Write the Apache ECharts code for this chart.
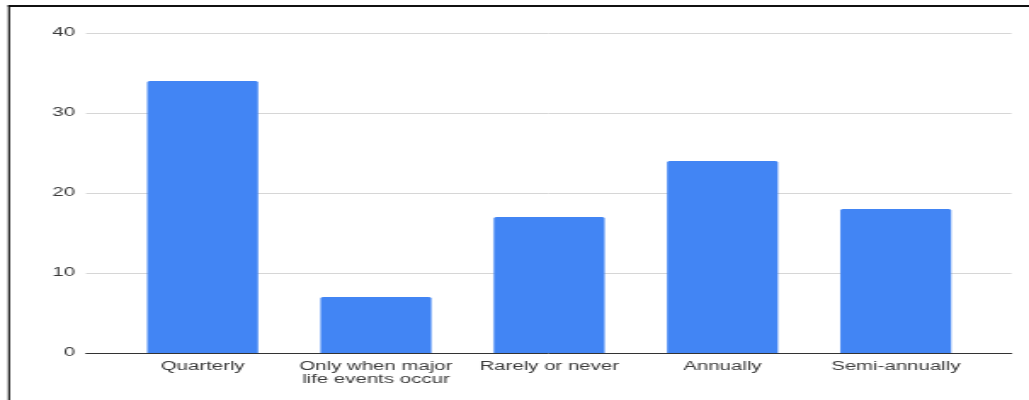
<!DOCTYPE html>
<html>
<head>
<meta charset="utf-8">
<script src="https://cdn.jsdelivr.net/npm/echarts@6/dist/echarts.min.js"></script>
<style>
  html, body { margin: 0; padding: 0; background: #fff; overflow: hidden; }
  /* The chart is laid out narrow and widened horizontally, giving the stretched look of the figure */
  #chart { width: 605px; height: 400px; transform: scaleX(1.7008); transform-origin: 0 0; }
</style>
</head>
<body>
<div id="chart"></div>
<script>
// How often respondents review the item in question
const categories = [
  'Quarterly',
  'Only when major\nlife events occur',
  'Rarely or never',
  'Annually',
  'Semi-annually'
];
const counts = [34, 7, 17, 24, 18];
const yTicks = [0, 10, 20, 30, 40];

const yMin = yTicks[0];
const yMax = yTicks[yTicks.length - 1];
const yStep = yTicks[1] - yTicks[0];

const labelFont = { fontFamily: '"Liberation Sans", Arial, sans-serif', fontSize: 12, color: '#3a3a3a' };

const chart = echarts.init(document.getElementById('chart'), null, { renderer: 'canvas' });

chart.setOption({
  animation: false,
  backgroundColor: '#fff',
  graphic: [
    // frame edges (left and top)
    { type: 'rect', left: 4.7, top: 5, shape: { width: 1.2, height: 400 }, style: { fill: '#111' }, silent: true },
    { type: 'rect', left: 4.7, top: 5, shape: { width: 620, height: 2 }, style: { fill: '#111' }, silent: true }
  ],
  grid: [
    // full-width plot: gridlines, value labels and baseline
    { left: 50.6, right: 10.3, top: 33, bottom: 47 },
    // inset band for the bars
    { left: 68.2, right: 27.4, top: 33, bottom: 47 }
  ],
  xAxis: [
    {
      gridIndex: 0, type: 'value', min: 0, max: 1,
      axisLine: { show: true, lineStyle: { color: '#333', width: 1 } },
      axisTick: { show: false }, axisLabel: { show: false }, splitLine: { show: false }
    },
    {
      gridIndex: 1, type: 'category', data: categories,
      axisLine: { show: false }, axisTick: { show: false },
      axisLabel: Object.assign({ interval: 0, margin: 7, lineHeight: 13 }, labelFont)
    }
  ],
  yAxis: [
    {
      gridIndex: 0, type: 'value', min: yMin, max: yMax, interval: yStep,
      axisLine: { show: false }, axisTick: { show: false },
      axisLabel: Object.assign({ margin: 6.5, padding: [2, 0, 0, 0] }, labelFont),
      splitLine: { show: true, lineStyle: { color: '#d6d6d6', width: 1 } }
    },
    {
      gridIndex: 1, type: 'value', min: yMin, max: yMax, interval: yStep,
      show: false, splitLine: { show: false }
    }
  ],
  series: [
    {
      type: 'bar',
      xAxisIndex: 1, yAxisIndex: 1,
      data: counts,
      barWidth: '64%',
      itemStyle: { color: '#4285F4', borderRadius: [1.5, 1.5, 0, 0] }
    }
  ]
});
</script>
</body>
</html>
